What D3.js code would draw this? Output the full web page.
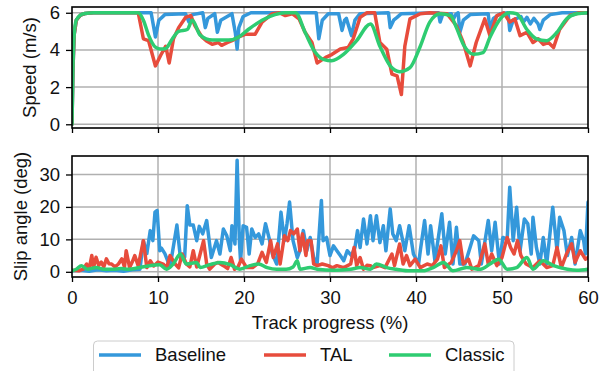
<!DOCTYPE html>
<html>
<head>
<meta charset="utf-8">
<script src="https://cdn.jsdelivr.net/npm/d3@7"></script>
<style>
  body { margin: 0; background: #fff; }
  svg { display: block; font-family: "Liberation Sans", Arial, sans-serif; }
  .grid line { stroke: #b0b0b0; stroke-width: 1.5; }
  .axis text { font-size: 18.5px; fill: #111; }
  .axis line { stroke: #000; stroke-width: 1.3; }
  .axis path { display: none; }
  .spine { fill: none; stroke: #000; stroke-width: 1.6; }
  .series { fill: none; stroke-width: 3.5; stroke-linejoin: round; stroke-linecap: round; }
  .label { font-size: 18.5px; fill: #111; }
</style>
</head>
<body>
<div id="chart"></div>
<script>
var seriesNames = ["Baseline", "TAL", "Classic"];
var seriesColors = ["#3498db", "#e74c3c", "#2ecc71"];

var xTicks = [0, 10, 20, 30, 40, 50, 60];
var speedTicks = [0, 2, 4, 6];
var slipTicks = [0, 10, 20, 30];

// speed (m/s) vs track progress (%)
var speedBaseline = [[0,0],[0.1,2.8],[0.25,4.8],[0.5,5.6],[1,5.88],[1.5,5.96],[2.5,6],[9.2,6],[9.7,4.7],[10.1,5.6],[10.8,5.9],[13.2,5.95],[13.6,5.5],[14,5.9],[15.2,6],[15.5,5.2],[15.8,5.7],[16.6,5.95],[16.9,4.95],[17.3,5.6],[18.6,5.95],[19,4.9],[19.2,4.05],[19.4,5.2],[19.9,5.8],[20.8,6],[28.4,6],[28.7,4.6],[29.1,5.6],[29.8,5.95],[31,5.95],[31.4,5.05],[31.7,5.6],[31.9,5.7],[32.5,4.77],[32.9,5.6],[33.5,5.95],[36.8,6],[37,5.2],[37.4,5.6],[37.8,5.75],[38.3,5.95],[42.6,6],[42.8,5.5],[43.1,5.9],[44.1,5.95],[44.3,5.6],[44.6,5.9],[44.9,6],[45.1,4.95],[45.5,5.6],[46.3,5.9],[48.4,5.95],[48.6,5.05],[49,5.7],[49.8,5.95],[50.7,6],[50.9,5.05],[51.3,5.6],[52.2,5.8],[52.5,5.5],[52.9,5.75],[53.3,5.4],[53.7,5.7],[54.2,5.4],[54.4,5.1],[54.8,5.6],[55.6,5.9],[57,6],[60,6]];
var speedTAL = [[0,0],[0.1,2.8],[0.25,4.8],[0.5,5.6],[1,5.88],[1.5,5.96],[2.5,6],[7.7,6],[8.3,4.6],[8.9,4.5],[9.7,3.14],[10.3,3.7],[10.9,4.2],[11.3,3.3],[11.8,4.6],[12.4,5.2],[13.2,5.75],[13.8,5.85],[14.3,5.3],[15.1,4.7],[15.6,4.5],[16.3,4.3],[17,4.4],[17.4,4.25],[18.1,4.4],[18.6,4.5],[19.4,4.7],[20.2,4.85],[21.3,4.85],[22.1,5.5],[23.3,5.95],[24.1,6],[24.8,5.85],[25.6,5.95],[26.4,5.67],[27.1,4.95],[27.9,4.4],[28.5,3.3],[29.5,3.6],[30.2,3.75],[31.2,4.05],[32.1,4.13],[32.7,4.6],[33.5,5.75],[34.3,6],[35.2,6],[35.8,4.4],[36.6,4.04],[37.2,2.7],[37.8,2.6],[38.3,1.6],[38.7,4.2],[39.3,5.67],[40.5,5.95],[41.6,6],[43.6,5.95],[44.7,5.3],[45.5,4.4],[46.3,3.14],[47,4.4],[48,5.67],[48.6,4.77],[49.4,5.85],[50.2,6],[50.9,5.5],[51.5,5.67],[52.1,4.77],[52.9,4.95],[53.6,4.4],[54.2,4.6],[54.8,4.3],[55.4,4.4],[56,4.13],[56.7,5.1],[57.9,5.85],[59,6],[60,6]];
var speedClassic = [[0,0],[0.1,2.8],[0.25,4.8],[0.5,5.6],[1,5.88],[1.5,5.96],[2.5,6],[7.7,6],[8.3,5.6],[8.9,4.8],[9.7,4.15],[10.3,4.05],[10.9,4.08],[11.6,4.55],[12.4,5.0],[13.4,5.1],[14,5.6],[14.9,4.8],[16.3,4.53],[18.2,4.53],[19.4,4.7],[20.5,5.1],[22.1,5.6],[23.6,5.9],[24.8,6],[26,6],[27.1,4.95],[28.3,3.86],[29.3,3.48],[30.2,3.42],[31.6,3.77],[33.1,4.5],[34.7,5.4],[35.8,4.2],[37,3.14],[38.1,2.83],[39.3,3.05],[40.5,4.2],[41.6,5.5],[42.8,5.95],[44,5.85],[44.7,5.2],[45.5,4.3],[46.7,3.77],[47.8,3.86],[48.6,4.68],[49.8,5.67],[50.9,6],[51.7,5.95],[52.9,5.1],[54,4.6],[55.2,4.5],[56.4,4.95],[57.5,5.67],[58.7,5.95],[60,6]];

// slip angle (deg) vs track progress (%)
var slipBaseline = [[0,0.3],[1,0.5],[2,0.2],[3,0.6],[4,0.3],[5,0.5],[6,0.2],[7,0.6],[7.9,0.8],[8.3,9.6],[8.7,5.6],[9.1,12.7],[9.4,9.6],[9.65,18.4],[9.9,18.9],[10.2,6.5],[10.4,7.3],[10.8,5.6],[11.4,1.5],[11.9,9.6],[12.2,14.4],[12.6,4.5],[13.1,4.5],[13.4,20.4],[13.7,14.4],[14.1,14.4],[14.5,9.6],[14.8,14],[15.2,11.7],[15.66,15.8],[16.2,4.4],[16.8,9.6],[17.2,5.5],[17.6,13.2],[18,11.1],[18.4,6.5],[18.6,14.2],[18.95,8.6],[19.2,34.4],[19.46,9.6],[19.6,3.4],[19.9,14.2],[20.3,13.7],[20.6,5.5],[20.9,13.2],[21.3,10.6],[21.7,11.7],[22.1,8.6],[22.5,14.8],[22.9,10.6],[23.3,5.5],[23.8,2.4],[24.3,18.4],[24.7,9.6],[25,14.8],[25.3,21.5],[25.7,9.6],[26.2,4.4],[26.5,6.5],[26.9,12.7],[27.3,6.5],[27.7,10.6],[28.1,4.4],[28.5,2.4],[29,22],[29.2,9.6],[29.6,10.6],[30,5],[30.4,8],[30.8,6.5],[31.2,5],[31.6,3.4],[32,6.5],[32.5,5],[32.9,7.5],[33.2,12.7],[33.5,7.5],[33.9,16.3],[34.3,8.6],[34.7,17.3],[35,9.6],[35.4,17.3],[35.8,9],[36.2,14.2],[36.5,6.5],[37,19.4],[37.3,11.7],[37.7,9.6],[38.1,14.2],[38.7,6.5],[39.2,14.2],[39.7,5.5],[40.3,2.4],[40.5,6.5],[41,15.8],[41.4,5.5],[41.7,14.2],[42.2,3.4],[42.6,10.6],[43,17.9],[43.4,5.5],[43.9,15.3],[44.3,2.4],[44.7,13.7],[45.1,2.4],[45.7,2.4],[46.7,11.1],[47.3,9.6],[47.6,2.4],[48.4,15.8],[48.8,6.5],[49.2,15.3],[49.7,2.4],[50.1,10.6],[50.6,10],[50.9,26.1],[51.3,9.6],[51.7,19.9],[52.1,6.5],[52.6,16.3],[53,14.8],[53.4,5.5],[53.6,16.8],[54,7.5],[54.4,2.4],[54.8,10.6],[55.2,2.4],[55.9,19.9],[56.4,6.5],[56.7,16.8],[57.2,12.7],[57.6,5],[58.1,10.6],[58.5,2.4],[59.1,12.7],[59.5,9.6],[59.7,5.5],[60,21.5]];
var slipTAL = [[0,0.5],[0.8,0.3],[1.3,0.8],[1.7,2.4],[2,1],[2.3,5],[2.5,1.3],[2.8,4.5],[3.1,2],[3.4,3],[3.7,1.5],[4,4],[4.3,2.5],[4.6,2.4],[5,1.5],[5.4,2.4],[5.8,4],[6.1,1.5],[6.3,6.5],[6.7,1.3],[7,3],[7.3,5],[7.7,1.8],[8.3,9.6],[8.7,1.3],[9.1,3.4],[9.5,1.8],[10,3],[10.6,2.4],[11,1.2],[11.4,5],[12,2.4],[12.4,1.2],[12.8,5.5],[13.3,2.4],[13.7,1.5],[14.1,6.5],[14.5,1.5],[14.9,5.5],[15.3,9.6],[15.66,2.4],[16,0.8],[16.6,2.4],[17,2.9],[17.6,1.9],[18.1,1],[18.5,4.4],[18.9,0.8],[19.3,1.5],[19.7,3.9],[20.3,1.3],[21,1.3],[21.6,2.5],[22.1,6],[22.6,2.9],[23.1,9.6],[23.4,4.4],[23.9,8.6],[24.2,2.4],[24.7,11.1],[25.1,9.6],[25.4,12.7],[25.8,11.7],[26.2,13.2],[26.5,6.5],[26.8,11.7],[27.2,5],[27.4,9.6],[27.8,9.6],[28.1,2.4],[28.5,1.9],[29.1,2.4],[29.8,1.9],[30.3,1.2],[30.8,1.9],[31.6,1.3],[32.4,2.4],[32.8,7.5],[33.1,1.9],[33.5,4.4],[33.9,0.8],[34.3,2],[34.7,1.9],[35,1.3],[35.8,1.9],[36.4,1.3],[37.2,5.5],[37.5,1.9],[38.1,8.6],[38.5,2.4],[38.9,5],[39.3,1.9],[39.9,3.9],[40.5,1.3],[41.3,2.4],[41.9,1.9],[42.5,3.9],[42.9,8],[43.3,1.3],[44.1,2.9],[44.7,6.5],[45.1,9.6],[45.5,2.4],[46.1,3.9],[46.5,0.8],[47.3,1.9],[48,8.6],[48.4,2.4],[48.8,5.5],[49.4,1.9],[50,4.4],[50.6,10.6],[51,7.5],[51.4,5.5],[51.8,9.6],[52.2,5],[52.8,2.4],[53.6,1.3],[54.4,3.4],[55.2,1.3],[55.9,1.9],[56.4,7.5],[56.9,1.3],[57.5,5.5],[58.1,8.6],[58.5,2.9],[59.1,6.5],[59.7,3.9],[60,4.4]];
var slipClassic = [[0,0.3],[0.5,0.8],[1.1,1.9],[1.5,1.2],[1.8,0.8],[2.8,1.3],[3.7,0.8],[4.7,0.8],[5.7,1],[6.6,0.8],[7.8,1.3],[9,1.9],[10.2,2.2],[11,0.8],[11.8,2.5],[12.6,5.5],[13.3,2.4],[14.5,2.9],[14.9,1.3],[16,2.2],[17.2,2.9],[18.4,2.2],[19.5,0.8],[20.7,1.9],[21.7,2.4],[22.7,1.3],[23.8,0.8],[24.9,0.8],[25.7,1.5],[26.2,3.4],[26.5,0.8],[27.7,1.3],[28.5,0.8],[30.4,0.5],[32.4,0.8],[33.5,1.3],[34.7,0.8],[35.4,2.4],[36.6,1.3],[37.7,0.8],[39.3,0.3],[40.8,0.3],[42,1.3],[43.2,2.9],[44.3,0.3],[45.9,1.3],[47.5,0.8],[48.6,2.4],[49.6,3.9],[50.6,0.8],[51.7,1.3],[52.9,4.4],[53.6,0.8],[54.8,3.4],[56,1.9],[57.6,0.8],[58.7,0.5],[60,0.8]];

var width = 599, height = 371;
var left = 72, right = 588;

var svg = d3.select("#chart").append("svg")
    .attr("width", width)
    .attr("height", height);

var x = d3.scaleLinear().domain([0, 60]).range([left, right]);

function drawPanel(cfg) {
    var y = d3.scaleLinear().domain(cfg.domain).range([cfg.bottom, cfg.top]);
    var g = svg.append("g");

    // grid
    var grid = g.append("g").attr("class", "grid");
    grid.selectAll("line.v")
        .data(xTicks.slice(1, -1))
        .enter().append("line")
        .attr("x1", function (d) { return x(d); })
        .attr("x2", function (d) { return x(d); })
        .attr("y1", cfg.top)
        .attr("y2", cfg.bottom);
    grid.selectAll("line.h")
        .data(cfg.ticks)
        .enter().append("line")
        .attr("x1", left)
        .attr("x2", right)
        .attr("y1", function (d) { return y(d); })
        .attr("y2", function (d) { return y(d); });

    var clipId = "clip-" + cfg.id;
    g.append("clipPath").attr("id", clipId)
        .append("rect")
        .attr("x", left).attr("y", cfg.top)
        .attr("width", right - left).attr("height", cfg.bottom - cfg.top);

    var lineLinear = d3.line()
        .x(function (d) { return x(d[0]); })
        .y(function (d) { return y(d[1]); });
    var lineSmooth = d3.line()
        .curve(d3.curveMonotoneX)
        .x(function (d) { return x(d[0]); })
        .y(function (d) { return y(d[1]); });

    var lines = g.append("g").attr("clip-path", "url(#" + clipId + ")");
    cfg.series.forEach(function (s, i) {
        lines.append("path")
            .datum(s)
            .attr("class", "series")
            .attr("stroke", seriesColors[i])
            .attr("d", i === 2 ? lineSmooth(s) : lineLinear(s));
    });

    // axes
    var xAxis = d3.axisBottom(x).tickValues(xTicks).tickSize(5).tickPadding(9);
    if (!cfg.xLabels) xAxis.tickFormat("");
    g.append("g")
        .attr("class", "axis")
        .attr("transform", "translate(0," + cfg.bottom + ")")
        .call(xAxis);

    g.append("g")
        .attr("class", "axis")
        .attr("transform", "translate(" + left + ",0)")
        .call(d3.axisLeft(y).tickValues(cfg.ticks).tickFormat(d3.format("d")).tickSize(6).tickPadding(6));

    g.append("rect")
        .attr("class", "spine")
        .attr("x", left).attr("y", cfg.top)
        .attr("width", right - left).attr("height", cfg.bottom - cfg.top);

    g.append("text")
        .attr("class", "label")
        .attr("transform", "translate(" + cfg.labelX + "," + ((cfg.top + cfg.bottom) / 2) + ") rotate(-90)")
        .attr("dy", "0.35em")
        .style("text-anchor", "middle")
        .text(cfg.label);
}

drawPanel({
    id: "speed", top: 7, bottom: 128, domain: [-0.2, 6.31], ticks: speedTicks,
    series: [speedBaseline, speedTAL, speedClassic],
    label: "Speed (m/s)", labelX: 30, xLabels: false
});

drawPanel({
    id: "slip", top: 156, bottom: 277, domain: [-1.6, 35.7], ticks: slipTicks,
    series: [slipBaseline, slipTAL, slipClassic],
    label: "Slip angle (deg)", labelX: 21, xLabels: true
});

svg.append("text")
    .attr("class", "label")
    .attr("x", (left + right) / 2)
    .attr("y", 323)
    .attr("dy", "0.35em")
    .style("text-anchor", "middle")
    .text("Track progress (%)");

// legend
var legend = svg.append("g");
legend.append("rect")
    .attr("x", 93.5).attr("y", 341)
    .attr("width", 420.5).attr("height", 45)
    .attr("rx", 4)
    .attr("fill", "#fff")
    .attr("fill-opacity", 0.8)
    .attr("stroke", "#cccccc")
    .attr("stroke-width", 1);

var legendX = [99, 264, 389];
var item = legend.selectAll("g.item")
    .data(seriesNames)
    .enter().append("g")
    .attr("transform", function (d, i) { return "translate(" + legendX[i] + ",355)"; });
item.append("line")
    .attr("x1", 0).attr("x2", 42)
    .attr("stroke", function (d, i) { return seriesColors[i]; })
    .attr("stroke-width", 3.5);
item.append("text")
    .attr("class", "label")
    .attr("x", 56)
    .attr("dy", "0.35em")
    .text(function (d) { return d; });
</script>
</body>
</html>
